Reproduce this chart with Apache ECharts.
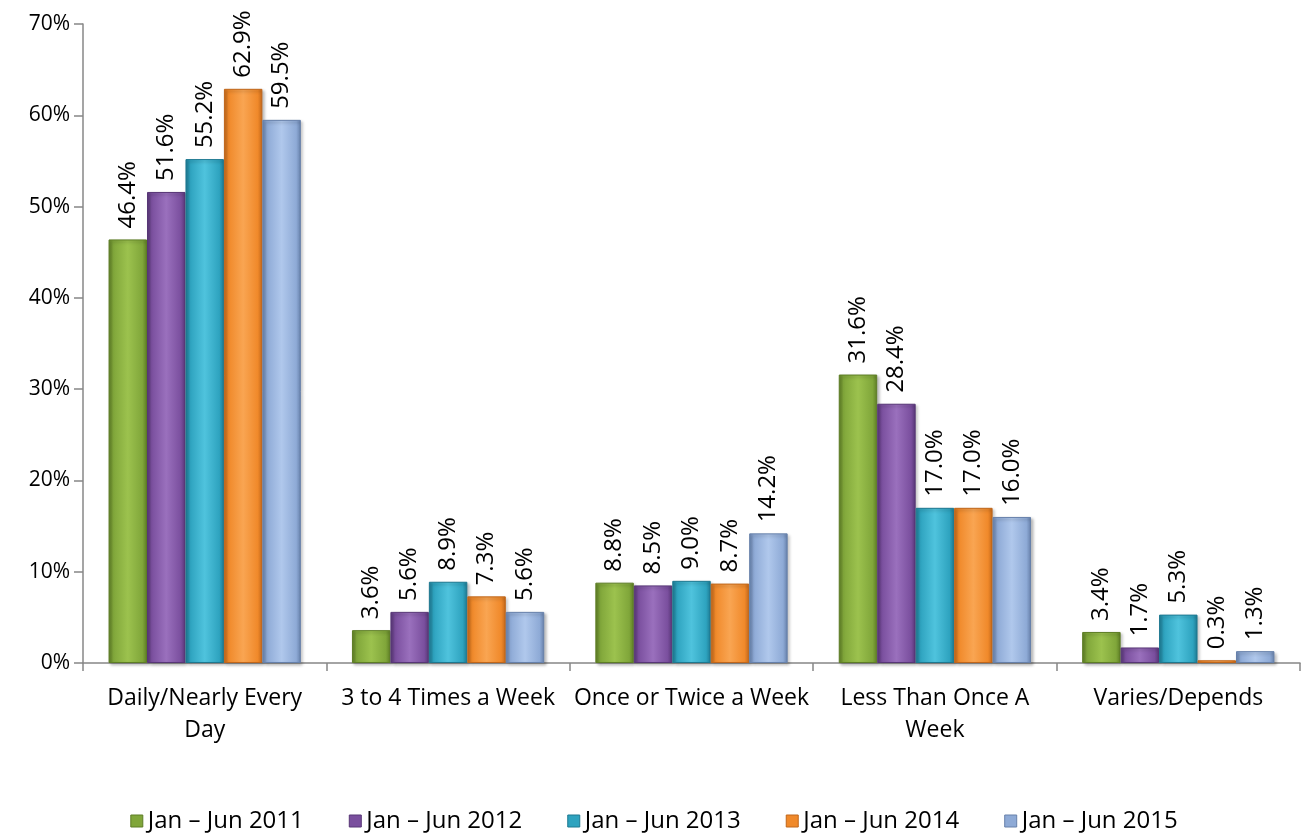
<!DOCTYPE html>
<html>
<head>
<meta charset="utf-8">
<script src="https://cdn.jsdelivr.net/npm/echarts@6/dist/echarts.min.js"></script>
<style>
  html, body { margin: 0; padding: 0; background: #fff; }
  #chart { width: 1308px; height: 838px; }
</style>
</head>
<body>
<div id="chart"></div>
<script>
// Frequency categories (line breaks as shown under the axis)
const categories = [
  'Daily/Nearly Every\nDay',
  '3 to 4 Times a Week',
  'Once or Twice a Week',
  'Less Than Once A\nWeek',
  'Varies/Depends'
];

// Share of respondents per period, in percent
const jun2011 = [46.4, 3.6, 8.8, 31.6, 3.4];
const jun2012 = [51.6, 5.6, 8.5, 28.4, 1.7];
const jun2013 = [55.2, 8.9, 9.0, 17.0, 5.3];
const jun2014 = [62.9, 7.3, 8.7, 17.0, 0.3];
const jun2015 = [59.5, 5.6, 14.2, 16.0, 1.3];

const seriesNames = ['Jan – Jun 2011', 'Jan – Jun 2012', 'Jan – Jun 2013', 'Jan – Jun 2014', 'Jan – Jun 2015'];
const seriesData = [jun2011, jun2012, jun2013, jun2014, jun2015];

// base, light and dark tones for each period's bevelled bars
const palette = [
  { base: '#80a63a', light: '#9cc24e', dark: '#5d7d25' },
  { base: '#7a4f9e', light: '#9a70bd', dark: '#573676' },
  { base: '#2ea3bf', light: '#4fc3dd', dark: '#1d7890' },
  { base: '#f0892a', light: '#f9a552', dark: '#c0661a' },
  { base: '#8eaad6', light: '#b0c8ec', dark: '#6680aa' }
];

const FONT = '"Open Sans", "Noto Sans", sans-serif';

function barFill(c) {
  return new echarts.graphic.LinearGradient(0, 0, 1, 0, [
    { offset: 0, color: c.dark },
    { offset: 0.12, color: c.base },
    { offset: 0.5, color: c.light },
    { offset: 0.88, color: c.base },
    { offset: 1, color: c.dark }
  ]);
}

const chart = echarts.init(document.getElementById('chart'), null, { renderer: 'canvas' });

const option = {
  backgroundColor: '#ffffff',
  animation: false,
  grid: { left: 83, right: 8, top: 24, bottom: 175, containLabel: false },
  legend: {
    bottom: 0,
    left: 'center',
    icon: 'rect',
    itemWidth: 12,
    itemHeight: 12,
    itemGap: 45,
    textStyle: { fontFamily: FONT, fontSize: 24, color: '#000' },
    data: seriesNames.map((n, i) => ({
      name: n,
      itemStyle: { color: palette[i].base, borderColor: palette[i].dark, borderWidth: 1 }
    }))
  },
  xAxis: {
    type: 'category',
    data: categories,
    axisLine: { lineStyle: { color: '#878787', width: 1.5 } },
    axisTick: { show: true, length: 8, lineStyle: { color: '#878787', width: 1.5 } },
    axisLabel: {
      fontFamily: FONT, fontSize: 23, color: '#000', margin: 19, lineHeight: 32, interval: 0
    }
  },
  yAxis: {
    type: 'value',
    min: 0,
    max: 70,
    interval: 10,
    axisLine: { show: true, lineStyle: { color: '#878787', width: 1.5 } },
    axisTick: { show: true, length: 9, lineStyle: { color: '#878787', width: 1.5 } },
    splitLine: { show: false },
    axisLabel: {
      fontFamily: FONT, fontSize: 21, color: '#000', margin: 13,
      formatter: v => v + '%'
    }
  },
  series: seriesData.map((d, i) => ({
    name: seriesNames[i],
    type: 'bar',
    data: d,
    barGap: '0%',
    barCategoryGap: '21%',
    itemStyle: {
      color: barFill(palette[i]),
      borderColor: palette[i].dark,
      borderWidth: 1,
      shadowColor: 'rgba(0,0,0,0.25)',
      shadowBlur: 3,
      shadowOffsetX: 2,
      shadowOffsetY: 2
    },
    label: {
      show: true,
      position: 'top',
      rotate: 90,
      align: 'left',
      verticalAlign: 'middle',
      distance: 11,
      fontFamily: FONT,
      fontSize: 24,
      color: '#000',
      formatter: p => p.value.toFixed(1) + '%'
    }
  }))
};

chart.setOption(option);
</script>
</body>
</html>
